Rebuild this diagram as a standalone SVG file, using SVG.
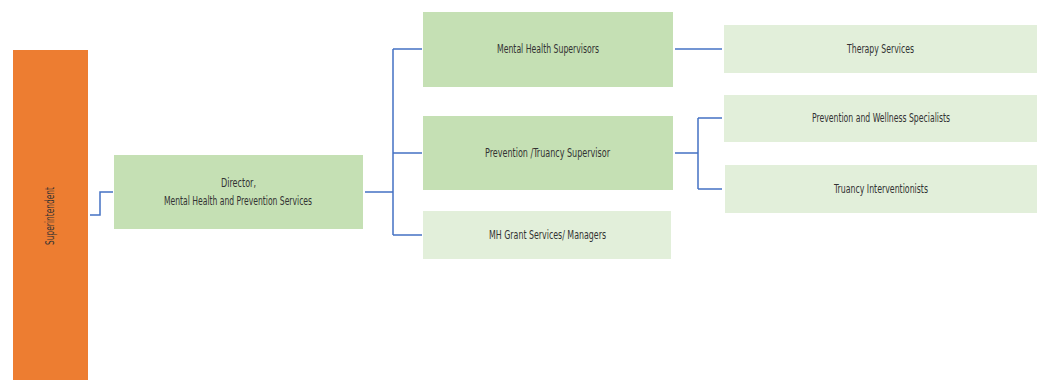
<svg xmlns="http://www.w3.org/2000/svg" width="1045" height="391" viewBox="0 0 1045 391">
<style>
.t{font-family:"DejaVu Sans Condensed","Liberation Sans",sans-serif;font-size:12px;fill:#333333;text-anchor:middle;dominant-baseline:central}
.mid{fill:#C5E0B4}
.lt{fill:#E2EFDA}
.c{fill:none;stroke:#4472C4;stroke-width:1.5}
</style>
<rect width="1045" height="391" fill="#ffffff"/>
<g id="connectors">
<path class="c" d="M90 215 H100 V192 H113"/>
<path class="c" d="M365 192 H393 M393 49 V235 M393 49 H422 M393 153 H422 M393 235 H422"/>
<path class="c" d="M675 49 H722"/>
<path class="c" d="M675 153 H698 M698 118 V189 M698 118 H722 M698 189 H722"/>
</g>
<g id="superintendent">
<rect x="13" y="50" width="75" height="330" fill="#ED7D31"/>
<text class="t" transform="translate(50 216) rotate(-90)" textLength="58" lengthAdjust="spacingAndGlyphs">Superintendent</text>
</g>
<g id="director">
<rect class="mid" x="114" y="155" width="249" height="74"/>
<text class="t" x="238.5" y="183" textLength="35" lengthAdjust="spacingAndGlyphs">Director,</text>
<text class="t" x="238" y="201" textLength="148" lengthAdjust="spacingAndGlyphs">Mental Health and Prevention Services</text>
</g>
<g id="mh-supervisors">
<rect class="mid" x="423" y="12" width="250" height="75"/>
<text class="t" x="548" y="49" textLength="102" lengthAdjust="spacingAndGlyphs">Mental Health Supervisors</text>
</g>
<g id="prevention-supervisor">
<rect class="mid" x="423" y="116" width="250" height="74"/>
<text class="t" x="547.5" y="153" textLength="125" lengthAdjust="spacingAndGlyphs">Prevention /Truancy Supervisor</text>
</g>
<g id="mh-grant">
<rect class="lt" x="423" y="211" width="248" height="48"/>
<text class="t" x="547.5" y="235" textLength="117" lengthAdjust="spacingAndGlyphs">MH Grant Services/ Managers</text>
</g>
<g id="therapy">
<rect class="lt" x="724" y="25" width="313" height="48"/>
<text class="t" x="880.5" y="49" textLength="67" lengthAdjust="spacingAndGlyphs">Therapy Services</text>
</g>
<g id="wellness">
<rect class="lt" x="724" y="95" width="313" height="47"/>
<text class="t" x="881" y="118" textLength="138" lengthAdjust="spacingAndGlyphs">Prevention and Wellness Specialists</text>
</g>
<g id="truancy">
<rect class="lt" x="725" y="165" width="312" height="48"/>
<text class="t" x="881" y="189" textLength="94" lengthAdjust="spacingAndGlyphs">Truancy Interventionists</text>
</g>
</svg>
